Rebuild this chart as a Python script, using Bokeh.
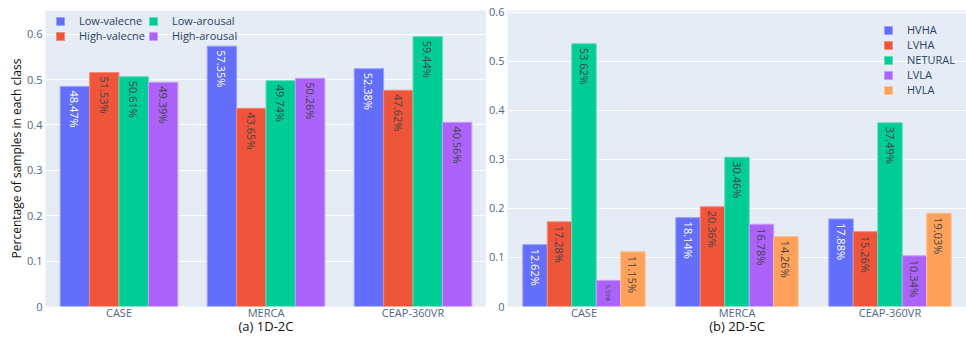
import math

from bokeh.embed import file_html
from bokeh.layouts import row
from bokeh.models import (ColumnDataSource, FactorRange, Legend, LegendItem,
                          Range1d, FixedTicker, Title)
from bokeh.plotting import figure
from bokeh.resources import INLINE
from bokeh.transform import dodge
from bokeh.core.properties import value

# ---- data -------------------------------------------------------------
datasets = ["CASE", "MERCA", "CEAP-360VR"]

# 1D-2C: share of samples per binary class
classes_2c = ["Low-valecne", "High-valecne", "Low-arousal", "High-arousal"]
low_valence = [0.4847, 0.5735, 0.5238]
high_valence = [0.5153, 0.4365, 0.4762]
low_arousal = [0.5061, 0.4974, 0.5944]
high_arousal = [0.4939, 0.5026, 0.4056]
series_2c = [low_valence, high_valence, low_arousal, high_arousal]

# 2D-5C: share of samples per quadrant class
classes_5c = ["HVHA", "LVHA", "NETURAL", "LVLA", "HVLA"]
hvha = [0.1262, 0.1814, 0.1788]
lvha = [0.1728, 0.2036, 0.1526]
netural = [0.5362, 0.3046, 0.3749]
lvla = [0.0533, 0.1678, 0.1034]
hvla = [0.1115, 0.1426, 0.1903]
series_5c = [hvha, lvha, netural, lvla, hvla]

y_ticks = [0, 0.1, 0.2, 0.3, 0.4, 0.5, 0.6]

# ---- style ------------------------------------------------------------
FONT = "Open Sans"
PALETTE = ["#636EFA", "#EF553B", "#00CC96", "#AB63FA", "#FFA15A"]
EDGE = ["#9aa1fb", "#f4897a", "#5fdcb8", "#c99bfb", "#ffc08f"]
LABEL_COLORS = ["white", "#444444", "#444444", "#444444", "#444444"]
BG = "#E5ECF6"
TICK_COLOR = "#506784"
FRAME_H = 296


def make_panel(series, names, ymax, frame_w, border_left, subtitle,
               legend_rows, legend_xy, item_h, label_w):
    p = figure(x_range=FactorRange(*datasets, range_padding=0),
               y_range=Range1d(0, ymax),
               frame_width=frame_w, frame_height=FRAME_H,
               output_backend="svg", toolbar_location=None,
               background_fill_color=BG,
               min_border_left=border_left, min_border_right=0,
               min_border_top=10, min_border_bottom=0)
    p.outline_line_color = None
    p.xgrid.grid_line_color = None
    p.ygrid.grid_line_color = "white"
    p.ygrid.grid_line_width = 1
    p.ygrid.ticker = FixedTicker(ticks=y_ticks)

    n = len(series)
    bar_w = 0.8 / n
    # pixels per data unit along y, used to shrink labels on short bars
    px_per_unit = FRAME_H / ymax

    items = []
    for k, (vals, name) in enumerate(zip(series, names)):
        off = -0.4 + bar_w * (k + 0.5)
        labels = [f"{v * 100:.2f}%" for v in vals]
        sizes = []
        for v, t in zip(vals, labels):
            avail = v * px_per_unit - 8
            fs = min(11.0, avail / (0.6 * len(t)))
            sizes.append(f"{fs:.1f}px")
        src = ColumnDataSource(dict(x=datasets, top=vals, label=labels, size=sizes))
        r = p.vbar(x=dodge("x", off, range=p.x_range), top="top", width=bar_w,
                   source=src, fill_color=PALETTE[k], line_color=EDGE[k],
                   line_width=1)
        p.text(x=dodge("x", off, range=p.x_range), y="top", text="label",
               source=src, angle=-math.pi / 2, text_align="left",
               text_baseline="middle", y_offset=4, text_font=value(FONT),
               text_font_size="size", text_color=LABEL_COLORS[k])
        items.append(LegendItem(label=name, renderers=[r]))

    rows = legend_rows or len(items)
    pad = 1
    legend_h = 2 * pad + rows * item_h
    lx, ltop = legend_xy
    legend = Legend(items=items, location=(lx - pad, FRAME_H - ltop - legend_h),
                    orientation="vertical", nrows=rows,
                    background_fill_alpha=0, border_line_color=None,
                    label_text_font=FONT, label_text_font_size="11px",
                    label_text_color="#2a3f5f", glyph_width=10, glyph_height=10,
                    label_standoff=14, label_height=item_h, label_width=label_w,
                    spacing=0, margin=0, padding=pad)
    p.add_layout(legend, "center")

    p.yaxis.ticker = FixedTicker(ticks=y_ticks)
    p.yaxis.major_label_overrides = {0: "0"}
    for ax in (p.xaxis, p.yaxis):
        ax.axis_line_color = None
        ax.major_tick_line_color = None
        ax.minor_tick_line_color = None
        ax.major_tick_out = 0
        ax.major_tick_in = 0
        ax.major_label_text_font = FONT
        ax.major_label_text_font_size = "11px"
        ax.major_label_text_color = TICK_COLOR
        ax.axis_label_text_font = FONT
        ax.axis_label_text_font_style = "normal"
        ax.axis_label_text_color = "#111111"
    p.yaxis.major_label_standoff = 3
    p.xaxis.major_label_standoff = -2
    p.xaxis.axis_label = subtitle
    p.xaxis.axis_label_text_font_size = "13px"
    p.xaxis.axis_label_standoff = -6
    return p


left = make_panel(series_2c, classes_2c, 0.652, 441, 45,
                  "(a) 1D-2C", 2, (11, 3), 14, 69)
right = make_panel(series_5c, classes_5c, 0.604, 459, 20,
                   "(b) 2D-5C", None, (377, 10), 15, 50)

# y-axis title of the left panel, outside the tick labels
left.add_layout(Title(text="Percentage of samples in each class", align="center",
                      offset=11, standoff=0, text_font=FONT,
                      text_font_size="12px", text_font_style="normal",
                      text_color="#111111"), "left")

layout = row(left, right)
open("out.html", "w").write(file_html(layout, INLINE))
